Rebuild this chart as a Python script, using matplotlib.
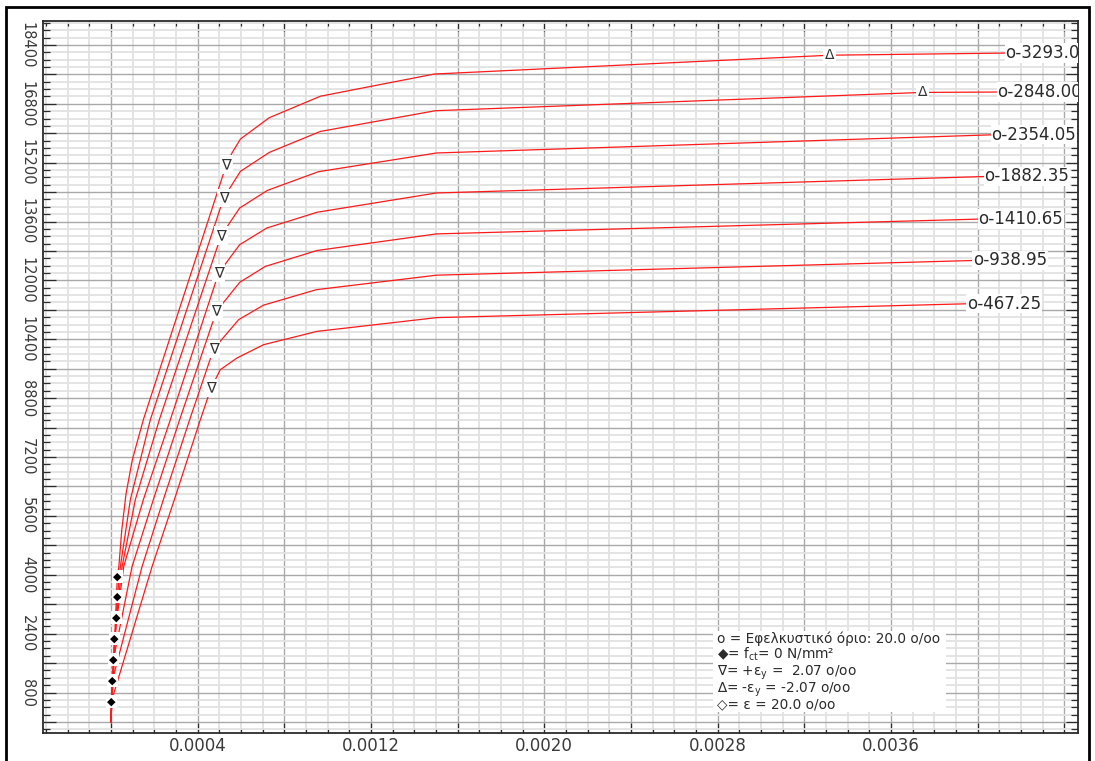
import matplotlib
matplotlib.use("Agg")
import matplotlib.pyplot as plt
import matplotlib.transforms as mtransforms
import numpy as np
from matplotlib.patches import Rectangle
from matplotlib.ticker import MultipleLocator

plt.rcParams["font.family"] = ["DejaVu Sans"]
plt.rcParams["mathtext.fontset"] = "dejavusans"

INK = "#2b2b2b"
RED = "#ff1a1a"

# moment-curvature curves, bottom curve first; label = axial load at the end point
CURVE_LABELS = ["467.25", "938.95", "1410.65", "1882.35", "2354.05", "2848.00", "3293.00"]

KAPPA_467 = [0, 0.0000023, 0.0001901, 0.0002931, 0.0004130, 0.0004624, 0.0005053,
             0.0005824, 0.0007052, 0.0009516, 0.0015022, 0.0039698]
M_467 = [0, 554, 4222, 6043, 8216, 9078, 9575, 9893, 10254, 10615, 10988, 11368]

KAPPA_939 = [0, 0.0000069, 0.0001440, 0.0002423, 0.0003637, 0.0004744, 0.0005898,
             0.0007038, 0.0009484, 0.0015022, 0.0039975]
M_939 = [0, 1125, 4222, 6043, 8216, 10137, 10933, 11327, 11748, 12142, 12544]

KAPPA_1411 = [0, 0.0000115, 0.0000978, 0.0001961, 0.0003175, 0.0004869, 0.0005944,
              0.0007130, 0.0009516, 0.0015022, 0.0040225]
M_1411 = [0, 1695, 4222, 6043, 8216, 11159, 11947, 12381, 12813, 13264, 13669]

KAPPA_1882 = [0, 0.0000162, 0.0000591, 0.0001500, 0.0002746, 0.0004975, 0.0005944,
              0.0007199, 0.0009530, 0.0015022, 0.0040502]
M_1882 = [0, 2266, 4222, 6043, 8216, 12202, 12971, 13425, 13854, 14376, 14827]

KAPPA_2354 = [0, 0.0000254, 0.0000517, 0.0001131, 0.0002238, 0.0005086, 0.0005944,
              0.0007222, 0.0009576, 0.0015022, 0.0040820]
M_2354 = [0, 2837, 4222, 6043, 8216, 13216, 13968, 14446, 14954, 15463, 15960]

KAPPA_2848 = [0, 0.0000300, 0.0000438, 0.0000900, 0.0001823, 0.0005206, 0.0005976,
              0.0007315, 0.0009669, 0.0014976, 0.0037437, 0.0041098]
M_2848 = [0, 3407, 4222, 6043, 8216, 14240, 14963, 15479, 16049, 16612, 17109, 17120]

KAPPA_3293 = [0, 0.0000300, 0.0000369, 0.0000500, 0.0000700, 0.0000992, 0.0001500, 0.0005330,
              0.0005590, 0.0005980, 0.0007310, 0.0009670, 0.0014930, 0.0033160, 0.0041470]
M_3293 = [0, 3950, 4222, 5200, 6200, 7129, 8216, 15145, 15463, 15843, 16422, 17006,
          17609, 18120, 18180]

# marker points: fct = 0 (diamond), +eps_y (nabla), -eps_y (delta)
DECOMP_KAPPA = [0.0000023, 0.0000069, 0.0000115, 0.0000162, 0.0000254, 0.0000300, 0.0000300]
DECOMP_M = [554, 1125, 1695, 2266, 2837, 3407, 3950]
YIELD_KAPPA = [0.0004624, 0.0004744, 0.0004869, 0.0004975, 0.0005086, 0.0005206, 0.0005330]
YIELD_M = [9078, 10137, 11159, 12202, 13216, 14240, 15145]
COMP_KAPPA = [0.0037437, 0.0033160]
COMP_M = [17109, 18120]

X_TICK_LABELS = ["", "0.0004", "", "0.0012", "", "0.0020", "", "0.0028", "", "0.0036", "", ""]
Y_TICK_LABELS = ["", "800", "", "2400", "", "4000", "", "5600", "", "7200", "", "8800", "",
                 "10400", "", "12000", "", "13600", "", "15200", "", "16800", "", "18400"]

LEGEND_LINES = [
    "o = Εφελκυστικό όριο: 20.0 o/oo",
    "◆= f$_{\\mathrm{ct}}$= 0 N/mm²",
    "∇= +ε$_{\\mathrm{y}}$ =  2.07 o/oo",
    "∆= -ε$_{\\mathrm{y}}$ = -2.07 o/oo",
    "◇= ε = 20.0 o/oo",
]
# baselines of the legend lines, in axes fraction
LEGEND_BASE = [0.1264, 0.1039, 0.0807, 0.0569, 0.0344]

curves = [
    (KAPPA_467, M_467),
    (KAPPA_939, M_939),
    (KAPPA_1411, M_1411),
    (KAPPA_1882, M_1882),
    (KAPPA_2354, M_2354),
    (KAPPA_2848, M_2848),
    (KAPPA_3293, M_3293),
]

fig = plt.figure(figsize=(10.95, 7.61), dpi=100)
ax = fig.add_axes([0.0395, 0.0368, 0.945, 0.9356])

ax.set_xlim(-0.000312, 0.004463)
ax.set_ylim(-300, 19050)

# grid
ax.xaxis.set_minor_locator(MultipleLocator(0.0001))
ax.yaxis.set_minor_locator(MultipleLocator(200))
ax.set_xticks(np.arange(12) * 0.0004, X_TICK_LABELS)
ax.set_yticks(np.arange(24) * 800, Y_TICK_LABELS)
ax.grid(which="minor", color="#e2e2e2", linewidth=1.3)
ax.grid(which="major", color="#a9a9a9", linewidth=1.0)
ax.set_axisbelow(True)

ax.tick_params(which="both", direction="in", top=True, right=True, color=INK, width=0.9,
               labelcolor="#3a3a3a")
ax.tick_params(axis="x", which="major", length=7, pad=3, labelsize=12)
ax.tick_params(axis="x", which="minor", length=3.5)
ax.tick_params(axis="y", which="major", length=9, pad=6, labelsize=10.5)
ax.tick_params(axis="y", which="minor", length=5)
for lab in ax.get_yticklabels():
    lab.set_rotation(-90)
    lab.set_verticalalignment("center")
for spine in ax.spines.values():
    spine.set_color(INK)
    spine.set_linewidth(1.3)

# curves, each ending in its "o-N" label (clipped at the axes edge)
shift = mtransforms.ScaledTranslation(-3 / 72, 0, fig.dpi_scale_trans)
for (kx, my), lab in zip(curves, CURVE_LABELS):
    ax.plot(kx, my, color=RED, linewidth=0.9, zorder=3)
    ax.text(kx[-1], my[-1], "o-" + lab, transform=ax.transData + shift,
            ha="left", va="center", fontsize=12, color=INK, zorder=5, clip_on=True,
            bbox=dict(boxstyle="square,pad=0.04", fc="white", ec="none"))

box = dict(boxstyle="square,pad=0.12", fc="white", ec="none")
for x, y in zip(DECOMP_KAPPA, DECOMP_M):
    ax.text(x, y, "◆", ha="center", va="center", fontsize=8, color="black", zorder=4, bbox=box)
for x, y in zip(YIELD_KAPPA, YIELD_M):
    ax.text(x, y, "∇", ha="center", va="center", fontsize=10.5, color="#333333", zorder=4, bbox=box)
for x, y in zip(COMP_KAPPA, COMP_M):
    ax.text(x, y, "Δ", ha="center", va="center", fontsize=10, color="#333333", zorder=4, bbox=box)

# legend block on one white panel
ax.add_patch(Rectangle((0.647, 0.0295), 0.2255, 0.1138, transform=ax.transAxes,
                       facecolor="white", edgecolor="none", zorder=5))
for base, line in zip(LEGEND_BASE, LEGEND_LINES):
    ax.text(0.651, base, line, transform=ax.transAxes, ha="left", va="baseline",
            fontsize=9.8, color=INK, zorder=6)

# outer frame
fig.add_artist(Rectangle((6 / 1095, -0.01), 1083 / 1095, 1.0008, transform=fig.transFigure,
                         fill=False, edgecolor="black", linewidth=2))

fig.savefig("out.png", dpi=100)
